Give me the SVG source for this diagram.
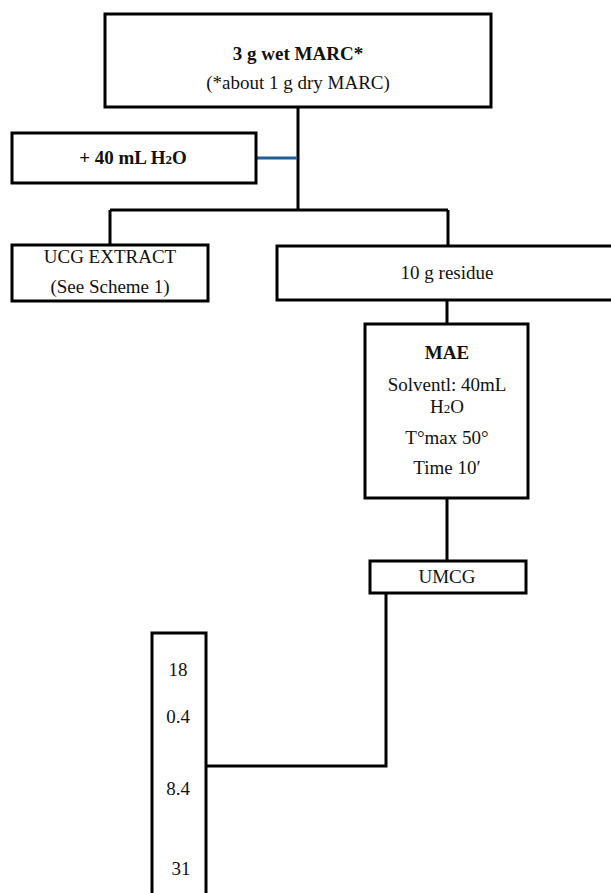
<svg xmlns="http://www.w3.org/2000/svg" width="611" height="893" viewBox="0 0 611 893">
<style>
.box{fill:#fff;stroke:#000;stroke-width:3}
.ln{fill:none;stroke:#000;stroke-width:3}
.blue{fill:none;stroke:#1f5f96;stroke-width:3}
text{font-family:"Liberation Serif","DejaVu Serif",serif;font-size:19px;fill:#111;text-anchor:middle}
.b{font-weight:bold}
.sub{font-size:13px}
</style>
<rect width="611" height="893" fill="#fff"/>
<g id="connectors">
<path class="ln" d="M298 107V210M110 210H448M110 210V246M448 210V246M447 300V324M447 498V561M386 593V766H206"/>
<path class="blue" d="M256 158H297"/>
</g>
<g id="n-marc">
<rect class="box" x="105" y="14" width="386" height="93"/>
<text x="298" y="60" class="b">3 g wet MARC*</text>
<text x="298" y="89">(*about 1 g dry MARC)</text>
</g>
<g id="n-water">
<rect class="box" x="12" y="133" width="244" height="50"/>
<text x="133" y="164" class="b">+ 40 mL H<tspan class="sub">2</tspan>O</text>
</g>
<g id="n-ucg">
<rect class="box" x="12" y="245" width="196" height="56"/>
<text x="110" y="263">UCG EXTRACT</text>
<text x="110" y="293">(See Scheme 1)</text>
</g>
<g id="n-residue">
<rect class="box" x="277" y="246" width="340" height="54"/>
<text x="447" y="279">10 g residue</text>
</g>
<g id="n-mae">
<rect class="box" x="365" y="324" width="163" height="174"/>
<text x="447" y="359" class="b">MAE</text>
<text x="447" y="391">Solventl: 40mL</text>
<text x="447" y="413">H<tspan class="sub">2</tspan>O</text>
<text x="447" y="444">T°max 50°</text>
<text x="447" y="474">Time 10′</text>
</g>
<g id="n-umcg">
<rect class="box" x="370" y="561" width="156" height="32"/>
<text x="447" y="583">UMCG</text>
</g>
<g id="n-values">
<rect class="box" x="152" y="633" width="54" height="270"/>
<text x="178" y="676">18</text>
<text x="178" y="723">0.4</text>
<text x="178" y="795">8.4</text>
<text x="181" y="875">31</text>
</g>
</svg>
